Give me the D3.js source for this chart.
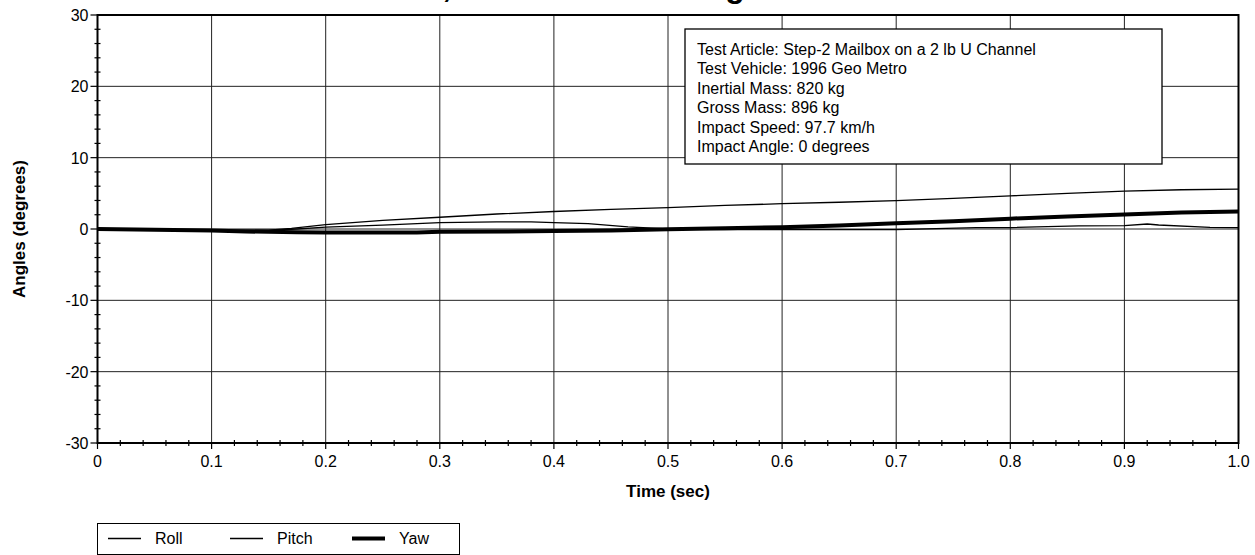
<!DOCTYPE html>
<html>
<head>
<meta charset="utf-8">
<script src="https://cdn.jsdelivr.net/npm/d3@7"></script>
<style>
  body { margin: 0; background: #fff; }
  svg { display: block; font-family: "Liberation Sans", Arial, sans-serif; }
  .tick-label { font-size: 16px; fill: #000; }
  .axis-title { font-size: 17px; font-weight: bold; fill: #000; }
  .info { font-size: 16px; fill: #000; }
</style>
</head>
<body>
<div id="chart"></div>
<script>
const W = 1255, H = 555;

// time (sec) and angles (degrees)
const rollTime  = [0, 0.05, 0.1, 0.15, 0.17, 0.2, 0.25, 0.3, 0.35, 0.4, 0.45, 0.5, 0.55, 0.6, 0.65, 0.7, 0.75, 0.8, 0.85, 0.9, 0.95, 1.0];
const rollVals  = [0, -0.1, -0.2, -0.15, 0.1, 0.6, 1.2, 1.65, 2.1, 2.45, 2.75, 3.0, 3.3, 3.55, 3.75, 3.97, 4.3, 4.65, 5.0, 5.3, 5.5, 5.6];

const pitchTime = [0, 0.05, 0.1, 0.15, 0.175, 0.2, 0.25, 0.3, 0.35, 0.38, 0.4, 0.43, 0.465, 0.5, 0.55, 0.6, 0.65, 0.7, 0.735, 0.77, 0.8, 0.86, 0.9, 0.92, 0.93, 0.975, 1.0];
const pitchVals = [0, -0.1, -0.2, -0.2, 0.0, 0.25, 0.55, 0.9, 1.0, 1.0, 0.9, 0.75, 0.3, 0.0, -0.1, -0.1, -0.1, -0.1, 0.05, 0.2, 0.2, 0.45, 0.46, 0.7, 0.56, 0.24, 0.2];

const yawTime   = [0, 0.05, 0.1, 0.13, 0.175, 0.2, 0.28, 0.3, 0.36, 0.4, 0.45, 0.5, 0.55, 0.6, 0.65, 0.7, 0.75, 0.8, 0.85, 0.9, 0.95, 1.0];
const yawVals   = [0, -0.1, -0.2, -0.35, -0.45, -0.5, -0.5, -0.4, -0.35, -0.28, -0.2, -0.05, 0.1, 0.25, 0.5, 0.8, 1.1, 1.45, 1.75, 2.05, 2.3, 2.45];

const xTicks = [0, 0.1, 0.2, 0.3, 0.4, 0.5, 0.6, 0.7, 0.8, 0.9, 1.0];
const xTickLabels = ["0", "0.1", "0.2", "0.3", "0.4", "0.5", "0.6", "0.7", "0.8", "0.9", "1.0"];
const yTicks = [-30, -20, -10, 0, 10, 20, 30];

const infoLines = [
  "Test Article: Step-2 Mailbox on a 2 lb U Channel",
  "Test Vehicle: 1996 Geo Metro",
  "Inertial Mass: 820 kg",
  "Gross Mass: 896 kg",
  "Impact Speed: 97.7 km/h",
  "Impact Angle: 0 degrees"
];

const legendNames = ["Roll", "Pitch", "Yaw"];
const lineWidths = [1.3, 1.3, 4];

const x = d3.scaleLinear().domain([0, 1]).range([97.5, 1238.5]);
const y = d3.scaleLinear().domain([-30, 30]).range([443, 15]);

const svg = d3.select("#chart").append("svg")
  .attr("width", W)
  .attr("height", H);

// title, mostly cut off at the top of the page (as in the source)
svg.append("text")
  .attr("x", 382)
  .attr("y", -3)
  .attr("font-size", 32)
  .attr("font-weight", "bold")
  .text("Roll, Pitch and Yaw Angles");

const grid = svg.append("g").attr("stroke", "#222").attr("stroke-width", 1);

// vertical gridlines
grid.selectAll(".vg")
  .data(xTicks.slice(1, -1))
  .enter().append("line")
  .attr("x1", d => x(d)).attr("x2", d => x(d))
  .attr("y1", y(30)).attr("y2", y(-30));

// horizontal gridlines
grid.selectAll(".hg")
  .data(yTicks.slice(1, -1))
  .enter().append("line")
  .attr("x1", x(0)).attr("x2", x(1))
  .attr("y1", d => y(d)).attr("y2", d => y(d));

// minor ticks
const yMinor = d3.range(-30, 30.01, 2).filter(v => v % 10 !== 0);
svg.selectAll(".ymin")
  .data(yMinor)
  .enter().append("line")
  .attr("x1", x(0) - 3).attr("x2", x(0) + 3)
  .attr("y1", d => y(d)).attr("y2", d => y(d))
  .attr("stroke", "#000").attr("stroke-width", 1.2);

const xMinor = d3.range(0, 50).map(i => i * 0.02).filter((v, i) => i % 5 !== 0);
svg.selectAll(".xmin")
  .data(xMinor)
  .enter().append("line")
  .attr("x1", d => x(d)).attr("x2", d => x(d))
  .attr("y1", y(-30) - 3).attr("y2", y(-30) + 3)
  .attr("stroke", "#000").attr("stroke-width", 1.2);

// major ticks
svg.selectAll(".ymaj")
  .data(yTicks)
  .enter().append("line")
  .attr("x1", x(0) - 7).attr("x2", x(0))
  .attr("y1", d => y(d)).attr("y2", d => y(d))
  .attr("stroke", "#000").attr("stroke-width", 1.2);

svg.selectAll(".xmaj")
  .data(xTicks)
  .enter().append("line")
  .attr("x1", d => x(d)).attr("x2", d => x(d))
  .attr("y1", y(-30)).attr("y2", y(-30) + 6)
  .attr("stroke", "#000").attr("stroke-width", 1.2);

// frame
svg.append("rect")
  .attr("x", x(0)).attr("y", y(30))
  .attr("width", x(1) - x(0)).attr("height", y(-30) - y(30))
  .attr("fill", "none").attr("stroke", "#000").attr("stroke-width", 2);

// tick labels
svg.selectAll(".ylab")
  .data(yTicks)
  .enter().append("text")
  .attr("class", "tick-label")
  .attr("x", x(0) - 9)
  .attr("y", d => y(d) + 6)
  .attr("text-anchor", "end")
  .text(d => d);

svg.selectAll(".xlab")
  .data(xTicks)
  .enter().append("text")
  .attr("class", "tick-label")
  .attr("x", d => x(d))
  .attr("y", y(-30) + 24)
  .attr("text-anchor", "middle")
  .text((d, i) => xTickLabels[i]);

// axis titles
svg.append("text")
  .attr("class", "axis-title")
  .attr("x", (x(0) + x(1)) / 2)
  .attr("y", 497)
  .attr("text-anchor", "middle")
  .text("Time (sec)");

svg.append("text")
  .attr("class", "axis-title")
  .attr("transform", `translate(25,${y(0)}) rotate(-90)`)
  .attr("text-anchor", "middle")
  .text("Angles (degrees)");

// series
const series = [
  { t: rollTime, v: rollVals },
  { t: pitchTime, v: pitchVals },
  { t: yawTime, v: yawVals }
];

const line = d3.line()
  .x(d => x(d[0]))
  .y(d => y(d[1]));

series.forEach((s, i) => {
  svg.append("path")
    .datum(s.t.map((t, j) => [t, s.v[j]]))
    .attr("fill", "none")
    .attr("stroke", "#000")
    .attr("stroke-width", lineWidths[i])
    .attr("d", line);
});

// info box
const info = svg.append("g");
info.append("rect")
  .attr("x", 685).attr("y", 29)
  .attr("width", 477).attr("height", 135)
  .attr("fill", "#fff").attr("stroke", "#000").attr("stroke-width", 1.3);

info.selectAll("text")
  .data(infoLines)
  .enter().append("text")
  .attr("class", "info")
  .attr("x", 697)
  .attr("y", (d, i) => 55 + i * 19.4)
  .text(d => d);

// legend
const legend = svg.append("g");
legend.append("rect")
  .attr("x", 97.5).attr("y", 523.5)
  .attr("width", 362).attr("height", 31)
  .attr("fill", "#fff").attr("stroke", "#000").attr("stroke-width", 1);

const legendX = [108, 230, 352];
legendNames.forEach((name, i) => {
  legend.append("line")
    .attr("x1", legendX[i]).attr("x2", legendX[i] + 33)
    .attr("y1", 538.5).attr("y2", 538.5)
    .attr("stroke", "#000").attr("stroke-width", lineWidths[i]);
  legend.append("text")
    .attr("class", "tick-label")
    .attr("x", legendX[i] + 47)
    .attr("y", 544)
    .text(name);
});
</script>
</body>
</html>
